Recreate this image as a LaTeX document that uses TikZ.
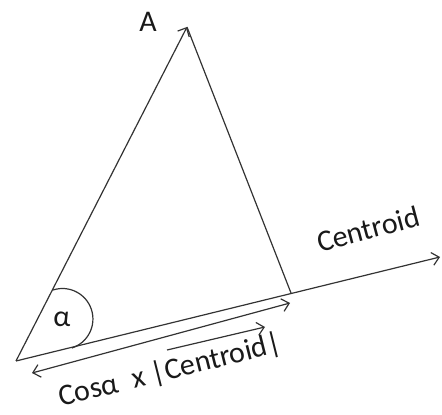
\documentclass[tikz,border=0pt]{standalone}
\usepackage{fontspec}
\setmainfont{Carlito}
\usetikzlibrary{arrows.meta}
\definecolor{trazo}{HTML}{333333}
\begin{document}
\begin{tikzpicture}[x=1pt, y=1pt, line width=1.2pt, draw=trazo,
  flecha/.style={-{Straight Barb[length=7pt, width=13pt]}},
  every node/.style={text=black!90, font=\fontsize{30}{35}\selectfont, inner sep=0pt}]
  \useasboundingbox (0,0) rectangle (442,415);

  % Puntos del triangulo
  \coordinate (o) at (16,54);
  \coordinate (a) at (187,388);
  \coordinate (f) at (291,122);
  \coordinate (c) at (440,158);

  % Proyeccion
  \coordinate (p1) at (32,42);
  \coordinate (p2) at (290,112);
  \coordinate (v1) at (167,65);
  \coordinate (v2) at (265,88);

  % Lados
  \draw[flecha] (o) -- (a);
  \draw (a) -- (f);
  \draw[flecha] (o) -- (c);
  \draw[{Straight Barb[length=7pt, width=13pt]}-{Straight Barb[length=7pt, width=13pt]}] (p1) -- (p2);
  \draw[flecha] (v1) -- (v2);

  % Angulo
  \coordinate (g1) at (53,125);
  \draw (g1) arc[start angle=108, end angle=-72, radius=30.5];

  % Etiquetas
  \node (la) at (148,393) {A};
  \node (lalfa) at (62,96) {α};
  \node[rotate=15] (lc) at (368,186) {Centroid};
  \node[rotate=14] (lp) at (170,44) {Cosα\hspace{0.5em}x |Centroid|};
\end{tikzpicture}
\end{document}
